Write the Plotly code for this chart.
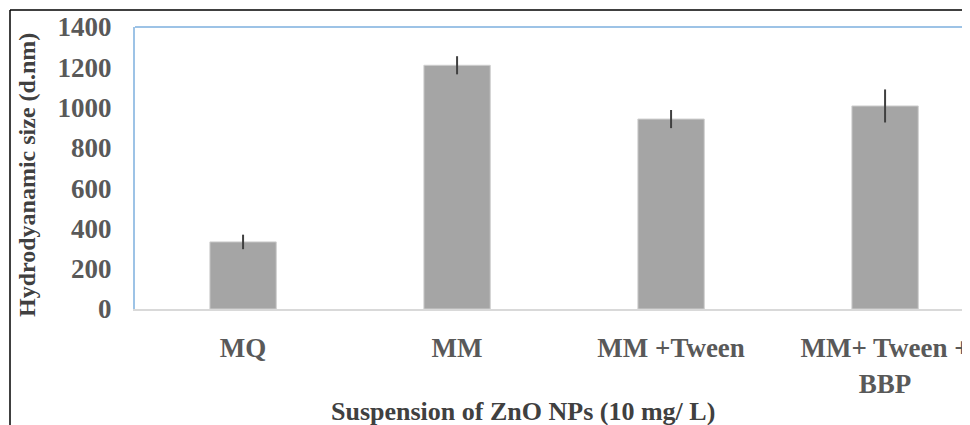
import plotly.graph_objects as go

categories = ["MQ", "MM", "MM +Tween", "MM+ Tween +<br>BBP"]
sizes = [333, 1210, 943, 1008]
errors = [36, 45, 45, 82]
y_ticks = [0, 200, 400, 600, 800, 1000, 1200, 1400]

# the page body adds an 8 px margin, so the figure is laid out 8 px smaller
OFF = 8
W, H = 970 - OFF, 425 - OFF
L, R, T, B = 135 - OFF, 970 - OFF, 27 - OFF, 309 - OFF
pw, ph = R - L, B - T

def px_x(x):  # reference pixel -> paper
    return (x - OFF - L) / pw

def px_y(y):
    return (B - (y - OFF)) / ph

FONT = "Liberation Serif, Times New Roman, serif"

fig = go.Figure()
fig.add_trace(go.Bar(
    x=list(range(len(categories))),
    y=sizes,
    width=0.31,
    marker=dict(color="#a5a5a5", line=dict(color="#cfcfcf", width=1)),
    error_y=dict(type="data", array=errors, visible=True, color="#404040",
                 thickness=2, width=0),
))

fig.update_layout(
    width=W, height=H,
    margin=dict(l=L, r=W - R, t=T, b=H - B),
    paper_bgcolor="white", plot_bgcolor="white",
    showlegend=False,
    xaxis=dict(
        range=[-0.505, -0.505 + pw / 214.0],
        tickmode="array", tickvals=list(range(len(categories))), ticktext=categories,
        tickfont=dict(family=FONT, size=27, color="#595959", weight="bold"),
        showgrid=False, zeroline=False,
        showline=True, linecolor="#d9d9d9", linewidth=2,
        ticks="", ticklabelstandoff=14,
    ),
    yaxis=dict(
        range=[0, 1400],
        tickmode="array", tickvals=y_ticks,
        tickfont=dict(family=FONT, size=27, color="#595959", weight="bold"),
        showgrid=False, zeroline=False,
        showline=True, linecolor="#9dc3e6", linewidth=2,
        ticks="", ticklabelstandoff=16,
    ),
    annotations=[
        dict(text="Hydrodyanamic size (d.nm)", textangle=-90,
             xref="paper", yref="paper", x=px_x(27), y=px_y(175),
             xanchor="center", yanchor="middle", showarrow=False,
             font=dict(family=FONT, size=24, color="#404040", weight="bold")),
        dict(text="Suspension of ZnO NPs (10 mg/ L)",
             xref="paper", yref="paper", x=px_x(523), y=px_y(411),
             xanchor="center", yanchor="middle", showarrow=False,
             font=dict(family=FONT, size=26, color="#404040", weight="bold")),
    ],
    shapes=[
        dict(type="line", xref="paper", yref="paper",
             x0=0, x1=1, y0=1, y1=1, line=dict(color="#9dc3e6", width=2)),
        dict(type="line", xref="paper", yref="paper",
             x0=px_x(10), x1=px_x(975), y0=px_y(10), y1=px_y(10),
             line=dict(color="black", width=1.5)),
        dict(type="line", xref="paper", yref="paper",
             x0=px_x(10), x1=px_x(10), y0=px_y(10), y1=px_y(430),
             line=dict(color="black", width=1.5)),
    ],
)

fig.write_html("out.html")
